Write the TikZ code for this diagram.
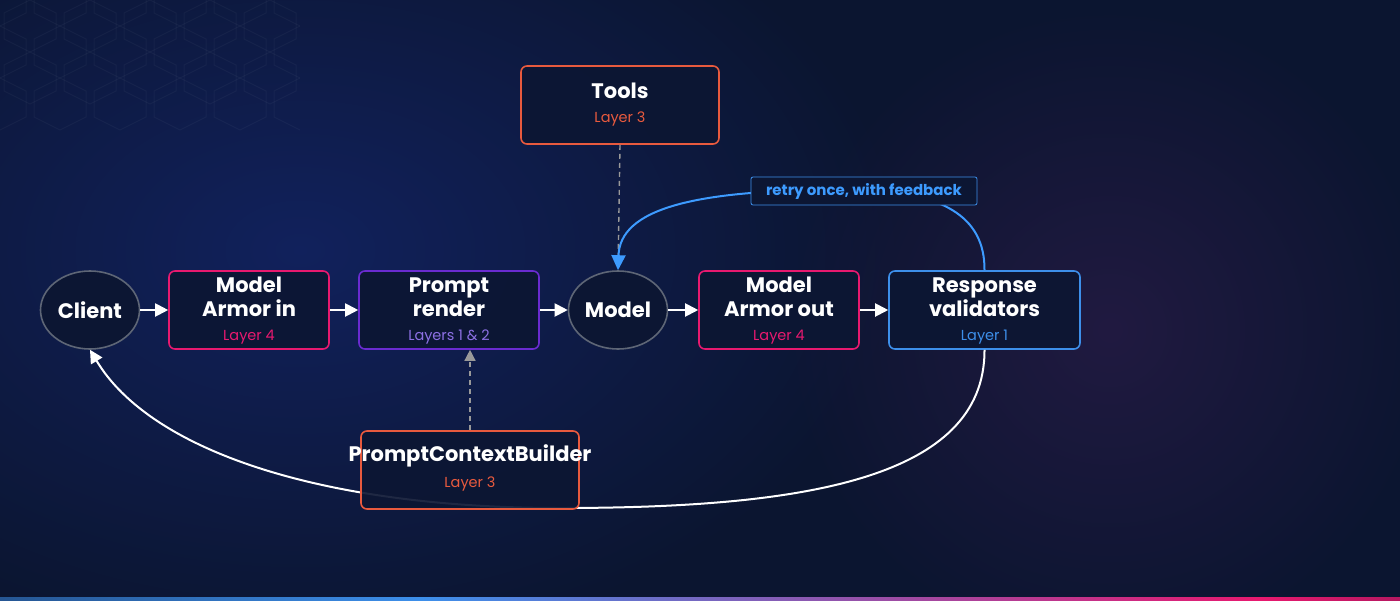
\documentclass[tikz,border=0pt]{standalone}
\usepackage{fontspec}
\setmainfont{Poppins}
\usetikzlibrary{arrows.meta,shapes.geometric,fadings}
\definecolor{bg}{HTML}{0B1530}
\definecolor{bgA}{HTML}{11215C}
\definecolor{bgB}{HTML}{2A1C48}
\definecolor{boxf}{HTML}{0C1633}
\definecolor{cgray}{HTML}{5E6676}
\definecolor{cpink}{HTML}{E8196F}
\definecolor{cpurple}{HTML}{6A2BD0}
\definecolor{cpurt}{HTML}{8C70E4}
\definecolor{cblue}{HTML}{3D8FEA}
\definecolor{cbluet}{HTML}{3D9BFF}
\definecolor{corange}{HTML}{E85A3E}
\pgfdeclarehorizontalshading{bline}{100bp}{color(0bp)=(bg); color(8bp)=(bg); color(40bp)=(cblue); color(70bp)=(cpink); color(92bp)=(bg); color(100bp)=(bg)}
\tikzfading[name=myglow,inner color=transparent!0,outer color=transparent!100]
\tikzset{
 x=1pt,y=-1pt,
 box/.style={draw,line width=1.6pt,rounded corners=6pt,fill=boxf,fill opacity=0.92,text opacity=1,minimum width=#1,minimum height=78pt,inner sep=0pt},
 oval/.style={ellipse,draw=cgray,line width=1.6pt,fill=boxf,minimum width=99pt,minimum height=78pt,inner sep=0pt,font=\fontsize{21}{22}\selectfont\bfseries,text=white},
 ttl/.style={font=\fontsize{21}{25}\selectfont\bfseries,text=white,align=center},
 lay/.style={font=\fontsize{14.5}{16}\selectfont},
 flow/.style={white,line width=2pt,-{Triangle[length=13pt,width=13pt]}},
}
\begin{document}
\begin{tikzpicture}
\useasboundingbox (0,0) rectangle (1400,600);
\fill[bg] (0,0) rectangle (1400,600);
\fill[inner color=bgA,outer color=bg] (-300,-150) rectangle (900,650);
\fill[bgB,path fading=myglow,fit fading=true,opacity=0.7] (780,0) rectangle (1440,660);
% hex pattern
\begin{scope}
\clip (0,0) rectangle (300,150);
\foreach \i in {0,...,6}{\foreach \j in {0,...,4}{
 \pgfmathsetmacro\cx{\i*60+mod(\j,2)*30}
 \pgfmathsetmacro\cy{\j*26}
 \draw[white,opacity=0.035,line width=1pt] (\cx,\cy-26) -- (\cx+26,\cy-13) -- (\cx+26,\cy+13) -- (\cx,\cy+26) -- (\cx-26,\cy+13) -- (\cx-26,\cy-13) -- cycle;
}}
\end{scope}
% bottom line
\shade[shading=bline] (0,597) rectangle (1400,600);
% nodes
\node[oval] (client) at (90,310) {Client};
\node[oval] (model) at (618,310) {Model};
\node[box=160pt,draw=cpink] (mai) at (249,310) {};
\node[ttl] at (249,297) {Model\\[-1pt]Armor in};
\node[lay,text=cpink] at (249,337) {Layer 4};
\node[box=180pt,draw=cpurple] (pr) at (449,310) {};
\node[ttl] at (449,297) {Prompt\\[-1pt]render};
\node[lay,text=cpurt] at (449,337) {Layers 1 \& 2};
\node[box=160pt,draw=cpink] (mao) at (779,310) {};
\node[ttl] at (779,297) {Model\\[-1pt]Armor out};
\node[lay,text=cpink] at (779,337) {Layer 4};
\node[box=191pt,draw=cblue] (rv) at (984.5,310) {};
\node[ttl] at (984.5,297) {Response\\[-1pt]validators};
\node[lay,text=cblue] at (984.5,337) {Layer 1};
\node[box=198pt,draw=corange] (tools) at (620,105) {};
\node[ttl] at (620,91) {Tools};
\node[lay,text=corange] at (620,119) {Layer 3};
% return curve
\draw[flow] (rv.south) .. controls (985,480) and (800,508) .. (560,508) .. controls (320,508) and (150,450) .. (client.south);
\node[box=218pt,draw=corange] (pcb) at (470,470) {};
\node[ttl] at (470,456) {PromptContextBuilder};
\node[lay,text=corange] at (470,484) {Layer 3};
% flows
\draw[flow] (client) -- (mai);
\draw[flow] (mai) -- (pr);
\draw[flow] (pr) -- (model);
\draw[flow] (model) -- (mao);
\draw[flow] (mao) -- (rv);
\draw[gray!80,line width=1.4pt,dash pattern=on 5pt off 4pt] (tools.south) -- (model.north);
\coordinate (prb) at (pcb.north |- pr.south);
\draw[gray!80,line width=1.4pt,dash pattern=on 5pt off 4pt,-{Triangle[length=11pt,width=11pt]}] (pcb.north) -- (prb);
% retry
\draw[cbluet,line width=2pt,-{Triangle[length=15pt,width=14pt]}] (rv.north) .. controls (985,215) and (940,192) .. (860,190) .. controls (690,188) and (620,210) .. (model.north);
\node[draw=cblue,line width=0.8pt,rounded corners=2pt,fill=boxf,minimum width=226pt,minimum height=28pt,inner sep=0pt,text=cbluet,font=\fontsize{15}{16}\selectfont\bfseries] (retry) at (864,191) {retry once, with feedback};
\end{tikzpicture}
\end{document}
